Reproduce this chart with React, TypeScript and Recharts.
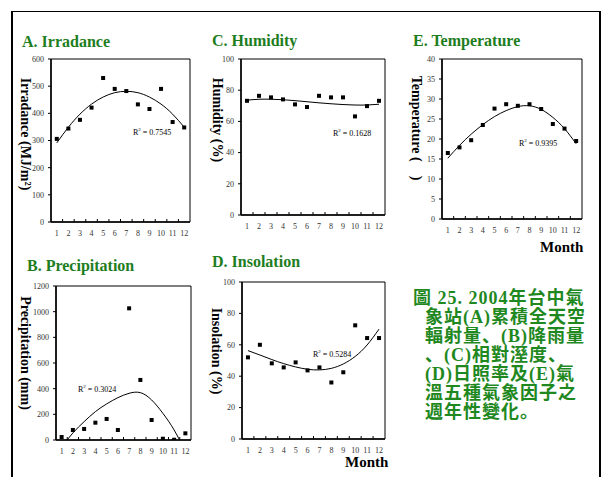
import React from "react";
import { ComposedChart, Line, Scatter, XAxis, YAxis, ReferenceArea } from "recharts";

const months = [1, 2, 3, 4, 5, 6, 7, 8, 9, 10, 11, 12];

const irradance = [306, 344, 376, 421, 530, 490, 482, 433, 416, 490, 368, 348];
const irradanceFit = [291, 349, 397, 434, 460, 476, 481, 476, 460, 434, 397, 349];
const irradanceTicks = [0, 100, 200, 300, 400, 500, 600];

const precipitation = [23, 78, 86, 135, 164, 78, 1026, 468, 156, 10, 2, 52];
const precipitationFit = [-55, 55, 143, 221, 281, 330, 364, 369, 312, 208, 78, -90];
const precipitationTicks = [0, 200, 400, 600, 800, 1000, 1200];

const humidity = [73.2, 76.4, 75.4, 74.1, 70.9, 69.2, 76.4, 75.4, 75.4, 63.2, 69.8, 73.2];
const humidityFit = [73.6, 74.2, 74.2, 73.9, 73.3, 72.6, 71.9, 71.3, 70.8, 70.5, 70.5, 71.0];
const percentTicks = [0, 20, 40, 60, 80, 100];

const insolation = [52, 60, 48.2, 45.6, 48.8, 43.7, 45.6, 36, 42.5, 72.4, 64.3, 64.3];
const insolationFit = [56.3, 53.5, 50.6, 48.0, 45.9, 44.4, 44.0, 45.0, 47.8, 52.6, 59.9, 70.0];

const temperature = [16.5, 17.9, 19.7, 23.5, 27.6, 28.7, 28.3, 28.7, 27.5, 23.75, 22.6, 19.5];
const temperatureFit = [15.2, 18.4, 21.2, 23.6, 25.6, 27.1, 28.1, 28.3, 27.4, 25.4, 22.6, 18.8];
const temperatureTicks = [0, 5, 10, 15, 20, 25, 30, 35, 40];

const captionLines = [
  "圖 25. 2004年台中氣",
  "象站(A)累積全天空",
  "輻射量、(B)降雨量",
  "、(C)相對溼度、",
  "(D)日照率及(E)氣",
  "溫五種氣象因子之",
  "週年性變化。",
];

const SERIF = '"Liberation Serif", "Times New Roman", serif';
const GREEN = "#1e7d1e";

// month labels on integers, small inward tick marks between months
const xTicks = months.flatMap((m) => (m < 12 ? [m, m + 0.5] : [m]));

const MonthTick = (props: any) => {
  const { x, y, payload } = props;
  const v = payload.value;
  if (Number.isInteger(v)) {
    return (
      <text x={x} y={y + 14} textAnchor="middle" fontSize={8} fill="#333" fontFamily={SERIF}>
        {v}
      </text>
    );
  }
  return <line x1={x} x2={x} y1={y} y2={y - 3} stroke="#000" strokeWidth={1} />;
};

const Square = (props: any) => {
  const { cx, cy } = props;
  if (cx == null || cy == null) return null;
  return <rect x={cx - 2} y={cy - 2} width={4} height={4} fill="#000" />;
};

function Panel({
  box,
  values,
  fit,
  ticks,
  clip,
}: {
  box: [number, number, number, number];
  values: number[];
  fit: number[];
  ticks: number[];
  clip?: boolean;
}) {
  const [L, T, R, B] = box;
  const rows = months.map((m, i) => ({ m, v: values[i], t: fit[i] }));
  const top = ticks[ticks.length - 1];
  return (
    <div style={{ position: "absolute", left: L - 45, top: T - 5 }}>
      <ComposedChart
        width={R - L + 50}
        height={B - T + 25}
        data={rows}
        margin={{ top: 5, right: 5, bottom: 0, left: 0 }}
      >
        <XAxis
          dataKey="m"
          type="number"
          domain={[0.5, 12.5]}
          ticks={xTicks}
          interval={0}
          allowDataOverflow
          height={20}
          tickSize={0}
          tickMargin={0}
          tickLine={false}
          axisLine={{ stroke: "#000", strokeWidth: 1.5 }}
          tick={<MonthTick />}
        />
        <YAxis
          type="number"
          domain={[0, top]}
          ticks={ticks}
          interval={0}
          allowDataOverflow={!!clip}
          width={45}
          tickSize={3}
          tickMargin={4}
          tickLine={{ stroke: "#000" }}
          axisLine={{ stroke: "#000", strokeWidth: 1.5 }}
          tick={{ fontSize: 8, fill: "#333", fontFamily: SERIF }}
        />
        <ReferenceArea x1={0.5} x2={12.5} y1={0} y2={top} fill="none" stroke="#000" strokeWidth={1} />
        <Line
          dataKey="t"
          type="natural"
          stroke="#000"
          strokeWidth={1}
          dot={false}
          activeDot={false}
          isAnimationActive={false}
        />
        <Scatter dataKey="v" shape={<Square />} isAnimationActive={false} />
      </ComposedChart>
    </div>
  );
}

function Txt({
  x,
  base,
  size,
  children,
  bold,
  color,
}: {
  x: number;
  base: number;
  size: number;
  children: React.ReactNode;
  bold?: boolean;
  color?: string;
}) {
  return (
    <div
      style={{
        position: "absolute",
        left: x,
        top: base - 0.84 * size,
        fontSize: size,
        lineHeight: `${size}px`,
        fontFamily: SERIF,
        fontWeight: bold ? "bold" : "normal",
        color: color ?? "#000",
        whiteSpace: "nowrap",
      }}
    >
      {children}
    </div>
  );
}

function VLabel({ cx, cy, text }: { cx: number; cy: number; text: string }) {
  return (
    <div
      style={{
        position: "absolute",
        left: cx,
        top: cy,
        transform: "translate(-50%, -50%) rotate(90deg)",
        fontSize: 14,
        lineHeight: "14px",
        fontFamily: SERIF,
        fontWeight: "bold",
        whiteSpace: "pre",
      }}
    >
      {text}
    </div>
  );
}

function R2({ x, base, value }: { x: number; base: number; value: string }) {
  return (
    <Txt x={x} base={base} size={8}>
      R<sup style={{ fontSize: 5, verticalAlign: "4px" }}>2</sup> = {value}
    </Txt>
  );
}

export default function App() {
  return (
    <div
      style={{
        position: "absolute",
        left: 0,
        top: 0,
        width: 610,
        height: 477,
        background: "#fff",
        overflow: "hidden",
      }}
    >
      <div
        style={{
          position: "absolute",
          left: 11,
          top: 11,
          width: 586,
          height: 480,
          borderTop: "1px solid #000",
          borderLeft: "2px solid #000",
          borderRight: "2px solid #000",
        }}
      />

      <Txt x={22} base={47} size={16} bold color={GREEN}>A. Irradance</Txt>
      <Txt x={212} base={46} size={16} bold color={GREEN}>C. Humidity</Txt>
      <Txt x={413} base={46} size={16} bold color={GREEN}>E. Temperature</Txt>
      <Txt x={27} base={271} size={16} bold color={GREEN}>B. Precipitation</Txt>
      <Txt x={212} base={267} size={16} bold color={GREEN}>D. Insolation</Txt>

      <VLabel cx={25} cy={134} text="Irradance (MJ/m²)" />
      <VLabel cx={217} cy={120} text="Humidity (%)" />
      <VLabel cx={416} cy={128} text={"Temperature (    )"} />
      <VLabel cx={25} cy={353} text="Precipitation (mm)" />
      <VLabel cx={216} cy={351} text="Insolation (%)" />

      <Panel box={[51, 59, 190, 222]} values={irradance} fit={irradanceFit} ticks={irradanceTicks} />
      <Panel box={[241, 59, 385, 215]} values={humidity} fit={humidityFit} ticks={percentTicks} />
      <Panel box={[442, 59, 582, 219]} values={temperature} fit={temperatureFit} ticks={temperatureTicks} />
      <Panel
        box={[56, 286, 191, 440]}
        values={precipitation}
        fit={precipitationFit}
        ticks={precipitationTicks}
        clip
      />
      <Panel box={[242, 282, 385, 439]} values={insolation} fit={insolationFit} ticks={percentTicks} />

      <R2 x={133} base={133} value="0.7545" />
      <R2 x={333} base={134} value="0.1628" />
      <R2 x={519} base={144} value="0.9395" />
      <R2 x={78} base={390} value="0.3024" />
      <R2 x={313} base={355} value="0.5284" />

      <Txt x={540} base={253} size={15} bold>Month</Txt>
      <Txt x={345} base={468} size={15} bold>Month</Txt>

      <div
        style={{
          position: "absolute",
          left: 413,
          top: 289,
          fontSize: 18,
          lineHeight: "19px",
          letterSpacing: 1,
          fontFamily: '"Liberation Serif", "Noto Sans CJK JP", serif',
          fontWeight: "bold",
          color: "#1f881f",
          whiteSpace: "nowrap",
        }}
      >
        {captionLines.map((line, i) => (
          <div key={i} style={{ paddingLeft: i === 0 ? 0 : 12, height: 19 }}>
            {line}
          </div>
        ))}
      </div>
    </div>
  );
}
